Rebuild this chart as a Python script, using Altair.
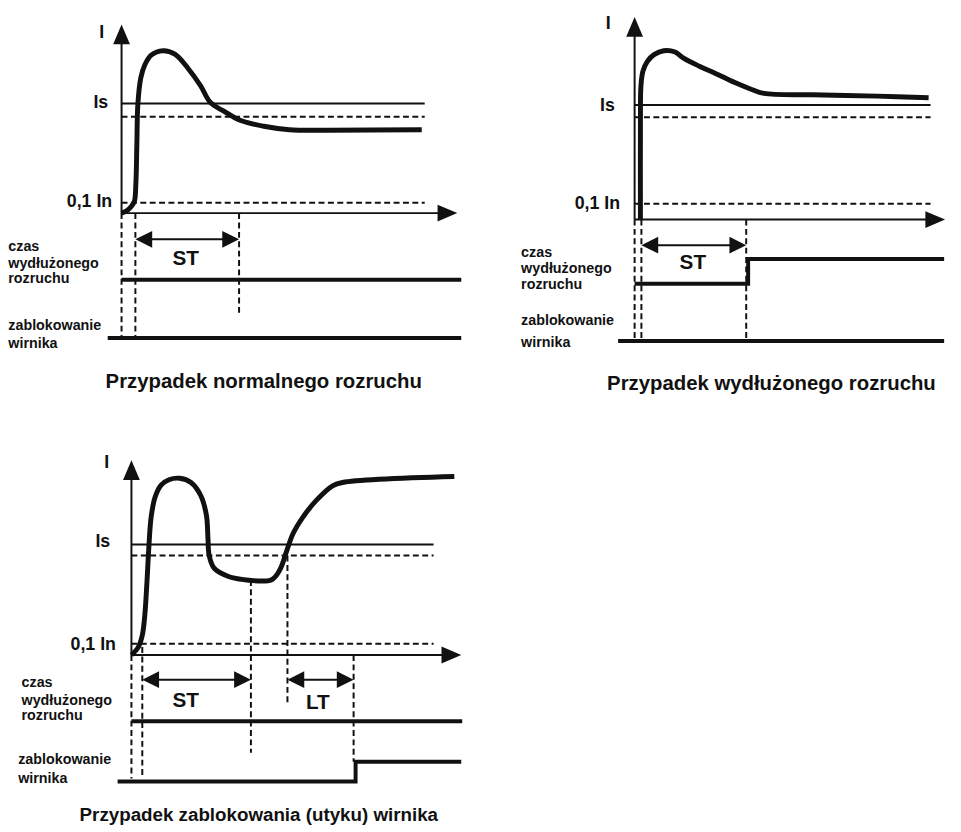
import altair as alt
import pandas as pd

INK = "#111111"
FONT = "Liberation Sans"

# ---------------- Panel 1: Przypadek normalnego rozruchu ----------------
P1_CURVE_T = [0, 6, 10, 13, 14.5, 15.5, 16.5, 19.5, 23.5, 30, 42, 54, 67, 80, 90, 104, 120, 144, 170, 210, 304]
P1_CURVE_I = [0, 3, 7, 12, 30, 70, 110, 137, 150, 160, 164.5, 161, 147, 129, 112, 103, 94, 88, 84.5, 84, 84.5]
P1_SOLID = [(0, 0, 0, 175), (0, 325, 0, 0), (0, 307, 111, 111), (20, 113, -26.5, -26.5)]
P1_DASHED = [(0, 307, 97.5, 97.5), (0, 307, 10.5, 10.5), (0, 0, 0, -126.5),
             (14, 14, 0, -126.5), (119, 119, 0, -103.5)]
P1_CZAS_T = [0, 344]
P1_CZAS_V = [-67.5, -67.5]
P1_BLOK_T = [-14, 344]
P1_BLOK_V = [-126.5, -126.5]
P1_AXIS_TIPS = [(0, 191, 0), (340, 0, 90)]
P1_SPAN_TIPS = [(14, -26.5, 270), (119, -26.5, 90)]
P1_AXLAB_C = [(-20, 177, "I"), (-21, 106.5, "Is")]
P1_AXLAB_R = [(-9.5, 6.5, "0,1 In")]
P1_SIGLAB = [(-114.7, -38.5, "czas"), (-114.7, -55.5, "wydłużonego"), (-114.7, -71.2, "rozruchu"),
             (-114.7, -118.8, "zablokowanie"), (-114.7, -136.2, "wirnika")]
P1_SPANLAB = [(65, -52.2, "ST")]
P1_CAPTION = [(144, -177.5, "Przypadek normalnego rozruchu")]

# ---------------- Panel 2: Przypadek wydłużonego rozruchu ----------------
P2_CURVE_T = [6, 6, 6.5, 8.5, 13, 20, 30, 41.7, 50, 66.7, 83.3, 103.3, 120, 133.3, 183, 250, 303]
P2_CURVE_I = [0, 100, 135, 150, 160, 167, 171, 169.7, 163.7, 155.3, 148, 138.7, 132, 127.7, 126.3, 125, 123.3]
P2_SOLID = [(0, 0, 0, 190), (0, 305, 0, 0), (0, 305, 116, 116), (12, 110, -26, -26)]
P2_DASHED = [(0, 305, 103.7, 103.7), (0, 305, 16, 16), (0, 0, 0, -121),
             (7, 7, 0, -121), (115, 115, 0, -121)]
P2_CZAS_T = [0, 117, 117, 319]
P2_CZAS_V = [-65, -65, -40, -40]
P2_BLOK_T = [-17, 319]
P2_BLOK_V = [-123, -123]
P2_AXIS_TIPS = [(0, 205, 0), (320, 0, 90)]
P2_SPAN_TIPS = [(7, -26, 270), (115, -26, 90)]
P2_AXLAB_C = [(-27.3, 193, "I"), (-28, 109.7, "Is")]
P2_AXLAB_R = [(-15, 11, "0,1 In")]
P2_SIGLAB = [(-117, -38, "czas"), (-117, -54, "wydłużonego"), (-117, -70.3, "rozruchu"),
             (-117, -107, "zablokowanie"), (-117, -128.7, "wirnika")]
P2_SPANLAB = [(60, -50.3, "ST")]
P2_CAPTION = [(141, -172.3, "Przypadek wydłużonego rozruchu")]

# ---------------- Panel 3: Przypadek zablokowania (utyku) wirnika ----------------
P3_CURVE_T = [0, 7, 11, 13.5, 15.5, 17.7, 20, 24, 30, 38, 48.7, 60.3, 70.3, 76, 77.5, 78.7, 83.7, 97,
              113.7, 142, 150.3, 157, 163.7, 173.7, 187, 203.7, 213.7, 327]
P3_CURVE_I = [0, 8, 20, 40, 70, 110, 140, 160, 172, 177.5, 179, 174.7, 161.3, 141, 118, 101, 88, 80,
              76.3, 76.3, 86.3, 104.7, 123, 139.7, 156.3, 171.3, 174.7, 180.7]
P3_SOLID = [(0, 0, 0, 182), (0, 315, 0, 0), (0, 306, 112, 112),
            (16, 116, -25, -25), (163, 220, -25, -25)]
P3_DASHED = [(0, 306, 100.7, 100.7), (0, 306, 11.3, 11.3), (0, 0, 0, -125), (11, 11, 8, -125),
             (121, 121, 76, -99), (158, 158, 100.7, -50), (225, 225, 0, -108)]
P3_CZAS_T = [0, 335]
P3_CZAS_V = [-67, -67]
P3_BLOK_T = [-14, 227, 227, 334]
P3_BLOK_V = [-128, -128, -108, -108]
P3_AXIS_TIPS = [(0, 197.3, 0), (334, 0, 90)]
P3_SPAN_TIPS = [(11, -25, 270), (121, -25, 90), (158, -25, 270), (225, -25, 90)]
P3_AXLAB_C = [(-25, 189.7, "I"), (-29, 109.7, "Is")]
P3_AXLAB_R = [(-15.7, 4.7, "0,1 In")]
P3_SIGLAB = [(-111.3, -32.7, "czas"), (-111.3, -50.3, "wydłużonego"), (-111.3, -66, "rozruchu"),
             (-114.7, -110.3, "zablokowanie"), (-114.7, -129.7, "wirnika")]
P3_SPANLAB = [(55, -52.7, "ST"), (188.7, -54.7, "LT")]
P3_CAPTION = [(129, -168, "Przypadek zablokowania (utyku) wirnika")]

ARROW_AXIS = "M0,0L0.85,2L-0.85,2Z"
ARROW_SPAN = "M0,0L1,2L-1,2Z"


def segs(rows):
    return pd.DataFrame(rows, columns=["x", "x2", "y", "y2"])


def pts(rows):
    return pd.DataFrame(rows, columns=["x", "y", "a"])


def labels(rows):
    return pd.DataFrame(rows, columns=["x", "y", "s"])


def panel(curve_t, curve_i, solid, dashed, czas_t, czas_v, blok_t, blok_v,
          axis_tips, span_tips, axlab_c, axlab_r, siglab, spanlab, caption,
          xdom, ydom, w, h, cap_size):
    xs = alt.Scale(domain=xdom, nice=False, zero=False)
    ys = alt.Scale(domain=ydom, nice=False, zero=False)

    def X(f="x"):
        return alt.X(f, type="quantitative", scale=xs, axis=None)

    def Y(f="y"):
        return alt.Y(f, type="quantitative", scale=ys, axis=None)

    curve = pd.DataFrame({"x": curve_t, "y": curve_i, "i": range(len(curve_t))})
    sig = pd.concat([
        pd.DataFrame({"x": czas_t, "y": czas_v, "i": range(len(czas_t)), "g": "czas"}),
        pd.DataFrame({"x": blok_t, "y": blok_v, "i": range(len(blok_t)), "g": "blok"}),
    ])

    layers = [
        alt.Chart(segs(solid)).mark_rule(color=INK, strokeWidth=2).encode(
            x=X(), x2="x2", y=Y(), y2="y2"),
        alt.Chart(segs(dashed)).mark_rule(color=INK, strokeWidth=2, strokeDash=[6, 3.5]).encode(
            x=X(), x2="x2", y=Y(), y2="y2"),
        alt.Chart(sig).mark_line(color=INK, strokeWidth=4, strokeJoin="miter").encode(
            x=X(), y=Y(), detail="g:N", order="i:Q"),
        alt.Chart(curve).mark_line(color=INK, strokeWidth=5, interpolate="catmull-rom",
                                   strokeJoin="round").encode(
            x=X(), y=Y(), order="i:Q"),
        alt.Chart(pts(axis_tips)).mark_point(shape=ARROW_AXIS, filled=True, size=400, color=INK,
                                             opacity=1, strokeWidth=0).encode(
            x=X(), y=Y(), angle=alt.Angle("a:Q", scale=None)),
        alt.Chart(pts(span_tips)).mark_point(shape=ARROW_SPAN, filled=True, size=289, color=INK,
                                             opacity=1, strokeWidth=0).encode(
            x=X(), y=Y(), angle=alt.Angle("a:Q", scale=None)),
        alt.Chart(labels(axlab_c)).mark_text(font=FONT, fontWeight="bold", fontSize=18, color=INK,
                                             align="center", baseline="alphabetic").encode(
            x=X(), y=Y(), text="s:N"),
        alt.Chart(labels(axlab_r)).mark_text(font=FONT, fontWeight="bold", fontSize=18, color=INK,
                                             align="right", baseline="alphabetic").encode(
            x=X(), y=Y(), text="s:N"),
        alt.Chart(labels(siglab)).mark_text(font=FONT, fontWeight="bold", fontSize=14.5, color=INK,
                                            align="left", baseline="alphabetic").encode(
            x=X(), y=Y(), text="s:N"),
        alt.Chart(labels(spanlab)).mark_text(font=FONT, fontWeight="bold", fontSize=21, color=INK,
                                             align="center", baseline="alphabetic").encode(
            x=X(), y=Y(), text="s:N"),
        alt.Chart(labels(caption)).mark_text(font=FONT, fontWeight="bold", fontSize=cap_size, color=INK,
                                             align="center", baseline="alphabetic").encode(
            x=X(), y=Y(), text="s:N"),
    ]
    return alt.layer(*layers).properties(width=w, height=h)


p1 = panel(P1_CURVE_T, P1_CURVE_I, P1_SOLID, P1_DASHED, P1_CZAS_T, P1_CZAS_V, P1_BLOK_T, P1_BLOK_V,
           P1_AXIS_TIPS, P1_SPAN_TIPS, P1_AXLAB_C, P1_AXLAB_R, P1_SIGLAB, P1_SPANLAB, P1_CAPTION,
           [-115, 347], [-184.5, 202.5], 462, 387, 20.6)
p2 = panel(P2_CURVE_T, P2_CURVE_I, P2_SOLID, P2_DASHED, P2_CZAS_T, P2_CZAS_V, P2_BLOK_T, P2_BLOK_V,
           P2_AXIS_TIPS, P2_SPAN_TIPS, P2_AXLAB_C, P2_AXLAB_R, P2_SIGLAB, P2_SPANLAB, P2_CAPTION,
           [-140, 321], [-178, 209], 453, 387, 20.6)
p3 = panel(P3_CURVE_T, P3_CURVE_I, P3_SOLID, P3_DASHED, P3_CZAS_T, P3_CZAS_V, P3_BLOK_T, P3_BLOK_V,
           P3_AXIS_TIPS, P3_SPAN_TIPS, P3_AXLAB_C, P3_AXLAB_R, P3_SIGLAB, P3_SPANLAB, P3_CAPTION,
           [-125, 337], [-173, 228], 462, 401, 19)

top = alt.hconcat(p1, p2, spacing=30)
chart = alt.vconcat(top, p3, spacing=35).properties(
    padding=0, background="white"
).configure_view(stroke=None)

chart.save("out.html", embed_options={"renderer": "svg", "actions": False})
